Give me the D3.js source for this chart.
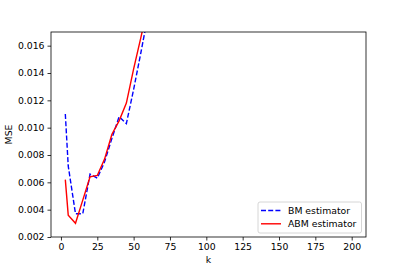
<!DOCTYPE html>
<html lang="en">
  <head>
    <meta charset="UTF-8" />
    <title>MSE vs k</title>
    <style>
      body { margin: 0; background: #fff; }
      text { font-family: "DejaVu Sans", sans-serif; fill: #000; }
    </style>
  </head>
  <body>
    <div class="chart"></div>

    <script src="https://d3js.org/d3.v7.min.js"></script>
    <script>
      // data (values above 0.017 are cut off by the axes)
      const kValues = [3, 5, 10, 15, 20, 25, 30, 35, 40, 45, 50, 55, 60];
      const bmMse = [0.0110, 0.0072, 0.0037, 0.0037, 0.0066, 0.0063, 0.0075, 0.0092, 0.0108, 0.0103, 0.0128, 0.0155, 0.0183];
      const abmMse = [0.0062, 0.0036, 0.0030, 0.0047, 0.0064, 0.0065, 0.0077, 0.0095, 0.0105, 0.0118, 0.0143, 0.0166, 0.0190];
      const kRange = [3, 200];
      const yLimits = [0.002, 0.017];
      const xTicks = [0, 25, 50, 75, 100, 125, 150, 175, 200];
      const yTicks = [0.002, 0.004, 0.006, 0.008, 0.010, 0.012, 0.014, 0.016];
      const seriesNames = ["BM estimator", "ABM estimator"];

      const width = 407, height = 271;
      const m = { left: 51, right: 41, top: 32, bottom: 34 };

      const svg = d3.select(".chart").append("svg")
        .attr("width", width).attr("height", height);

      // matplotlib-style 5% margins on x
      const pad = (kRange[1] - kRange[0]) * 0.05;
      const x = d3.scaleLinear()
        .domain([kRange[0] - pad, kRange[1] + pad])
        .range([m.left, width - m.right]);
      const y = d3.scaleLinear()
        .domain(yLimits)
        .range([height - m.bottom, m.top]);

      svg.append("clipPath").attr("id", "plotArea")
        .append("rect")
        .attr("x", m.left).attr("y", m.top)
        .attr("width", width - m.left - m.right)
        .attr("height", height - m.top - m.bottom);

      const line = (vals) => d3.line()
        .x((d, i) => x(kValues[i]))
        .y((d) => y(d))(vals);

      const plot = svg.append("g").attr("clip-path", "url(#plotArea)");
      plot.append("path")
        .attr("d", line(bmMse))
        .attr("fill", "none")
        .attr("stroke", "blue")
        .attr("stroke-width", 1.4)
        .attr("stroke-dasharray", "5,2.2");
      plot.append("path")
        .attr("d", line(abmMse))
        .attr("fill", "none")
        .attr("stroke", "red")
        .attr("stroke-width", 1.4);

      // axes
      const xAxis = svg.append("g")
        .attr("transform", `translate(0,${height - m.bottom})`)
        .call(d3.axisBottom(x).tickValues(xTicks).tickSize(3.5).tickPadding(3).tickFormat(d3.format("d")));
      const yAxis = svg.append("g")
        .attr("transform", `translate(${m.left},0)`)
        .call(d3.axisLeft(y).tickValues(yTicks).tickSize(3.5).tickPadding(3).tickFormat(d3.format(".3f")));

      [xAxis, yAxis].forEach((g) => {
        g.select(".domain").remove();
        g.selectAll("line").attr("stroke", "#000").attr("stroke-width", 0.8);
        g.selectAll("text").attr("font-family", "DejaVu Sans").attr("font-size", 9.3).attr("fill", "#000");
      });

      // frame
      svg.append("rect")
        .attr("x", m.left).attr("y", m.top)
        .attr("width", width - m.left - m.right)
        .attr("height", height - m.top - m.bottom)
        .attr("fill", "none")
        .attr("stroke", "#000")
        .attr("stroke-width", 0.8);

      svg.append("text")
        .attr("x", (m.left + width - m.right) / 2)
        .attr("y", 263)
        .attr("text-anchor", "middle")
        .attr("font-size", 9.3)
        .text("k");
      svg.append("text")
        .attr("transform", `translate(12,${(m.top + height - m.bottom) / 2}) rotate(-90)`)
        .attr("text-anchor", "middle")
        .attr("font-size", 9.3)
        .text("MSE");

      // legend
      const lg = svg.append("g").attr("transform", "translate(258,202)");
      lg.append("rect")
        .attr("width", 103.5).attr("height", 31)
        .attr("rx", 2)
        .attr("fill", "#fff").attr("fill-opacity", 0.8)
        .attr("stroke", "#ccc").attr("stroke-width", 0.8);
      const styles = [{ c: "blue", dash: "5,2.2" }, { c: "red", dash: null }];
      seriesNames.forEach((name, i) => {
        const yy = 8.5 + i * 13.3;
        lg.append("line")
          .attr("x1", 3).attr("x2", 23).attr("y1", yy).attr("y2", yy)
          .attr("stroke", styles[i].c).attr("stroke-width", 1.4)
          .attr("stroke-dasharray", styles[i].dash);
        lg.append("text")
          .attr("x", 30).attr("y", yy + 3.3)
          .attr("font-size", 9.3)
          .text(name);
      });
    </script>
  </body>
</html>
